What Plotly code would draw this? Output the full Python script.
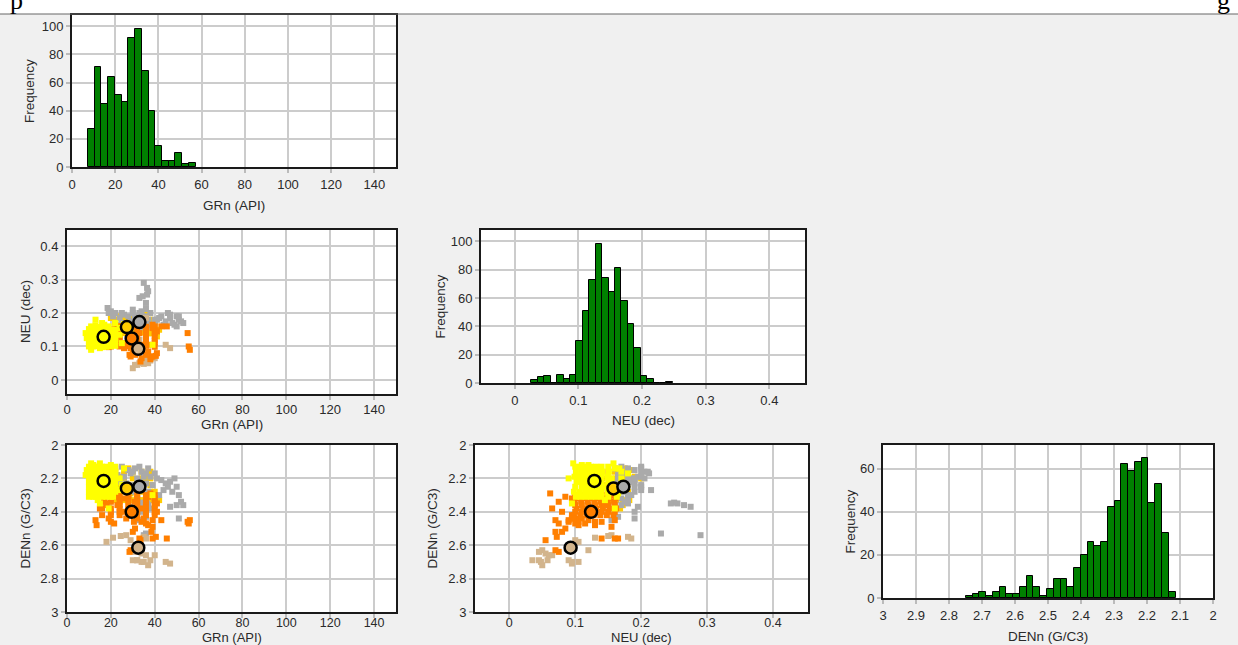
import plotly.graph_objects as go

W, H = 1238, 645

# ---------------- histogram data ----------------
gr_counts = [27, 71, 45, 64, 51, 46, 92, 98, 68, 40, 15, 4, 4, 10, 2, 3]
gr_bin_first = 7.35      # lower edge of first bin (API)
gr_bin_width = 3.12

neu_counts = [2, 4, 5, 0, 6, 3, 6, 30, 51, 73, 98, 74, 64, 81, 58, 42, 25, 5, 3, 0, 0, 1]
neu_bin_first = 0.0262   # lower edge of first bin (dec)
neu_bin_width = 0.0101

den_counts = [1, 2, 3, 1, 3, 5, 2, 2, 5, 10, 5, 1, 4, 9, 9, 5, 14, 20, 26, 24, 26,
              42, 45, 62, 59, 63, 65, 44, 53, 30, 3]
den_bin_first = 2.749    # upper edge of first bin (G/C3), bins run toward lower density
den_bin_width = 0.0205

# ---------------- cluster points (GRn, NEU, DENn) ----------------
yellow_pts = [
    (10, 0.100, 2.13), (14, 0.101, 2.16), (18, 0.099, 2.19), (22, 0.102, 2.22), (12, 0.100, 2.25), (16, 0.098, 2.28), (20, 0.101, 2.31),
    (12.5, 0.108, 2.13), (16, 0.109, 2.16), (20, 0.107, 2.19), (10, 0.108, 2.22), (14, 0.110, 2.25), (18, 0.107, 2.28), (21, 0.108, 2.31),
    (14, 0.116, 2.13), (18, 0.117, 2.16), (22, 0.115, 2.19), (12, 0.116, 2.22), (16, 0.118, 2.25), (20, 0.115, 2.28), (10, 0.116, 2.31),
    (16, 0.124, 2.13), (20, 0.125, 2.16), (10, 0.123, 2.19), (14, 0.124, 2.22), (18, 0.126, 2.25), (22, 0.123, 2.28), (12, 0.124, 2.31),
    (18, 0.132, 2.13), (22, 0.133, 2.16), (12, 0.131, 2.19), (16, 0.132, 2.22), (20, 0.134, 2.25), (10, 0.131, 2.28), (14, 0.132, 2.31),
    (20, 0.140, 2.13), (10, 0.141, 2.16), (14, 0.139, 2.19), (18, 0.140, 2.22), (22, 0.142, 2.25), (12, 0.139, 2.28), (16, 0.140, 2.31),
    (22, 0.150, 2.13), (12, 0.151, 2.16), (16, 0.149, 2.19), (20, 0.150, 2.22), (10, 0.152, 2.25), (14, 0.149, 2.28), (18, 0.150, 2.31),
    (9, 0.125, 2.15), (11, 0.160, 2.14), (24, 0.155, 2.20), (25, 0.110, 2.24), (13, 0.180, 2.17), (17, 0.165, 2.29),
    (15, 0.095, 2.35), (19, 0.160, 2.38), (12, 0.120, 2.12), (39, 0.105, 2.30), (22, 0.170, 2.16), (20, 0.110, 2.12),
    (14, 0.145, 2.33), (16, 0.170, 2.20), (11, 0.090, 2.20), (24, 0.135, 2.27), (8.5, 0.140, 2.18), (15, 0.158, 2.11),
    (11, 0.097, 2.11), (26, 0.167, 2.14), (13, 0.163, 2.31),
]

gold_pts = [
    (22, 0.140, 2.16), (30, 0.141, 2.20), (38, 0.139, 2.24), (26, 0.140, 2.28), (34, 0.142, 2.33),
    (26, 0.150, 2.16), (34, 0.151, 2.20), (22, 0.149, 2.24), (30, 0.150, 2.28), (38, 0.152, 2.33),
    (30, 0.160, 2.16), (38, 0.161, 2.20), (26, 0.159, 2.24), (34, 0.160, 2.28), (22, 0.162, 2.33),
    (34, 0.170, 2.16), (22, 0.171, 2.20), (30, 0.169, 2.24), (38, 0.170, 2.28), (26, 0.172, 2.33),
    (38, 0.180, 2.16), (26, 0.181, 2.20), (34, 0.179, 2.24), (22, 0.180, 2.28), (30, 0.182, 2.33),
    (41, 0.130, 2.32), (42, 0.150, 2.33), (20, 0.185, 2.15), (24, 0.190, 2.19), (36, 0.200, 2.20),
    (28, 0.175, 2.14), (25, 0.165, 2.25), (29, 0.155, 2.29), (40, 0.165, 2.28), (23, 0.145, 2.24),
    (36, 0.168, 2.38), (33, 0.172, 2.36),
]

grey_pts = [
    (22, 0.200, 2.14), (25, 0.170, 2.13), (28, 0.190, 2.15), (31, 0.160, 2.14), (34, 0.205, 2.16), (37, 0.180, 2.14), (40, 0.170, 2.17),
    (23, 0.165, 2.18), (26, 0.195, 2.19), (29, 0.175, 2.17), (32, 0.185, 2.20), (35, 0.165, 2.19), (38, 0.200, 2.19), (41, 0.180, 2.20),
    (24, 0.185, 2.22), (27, 0.160, 2.23), (30, 0.200, 2.24), (33, 0.170, 2.22), (36, 0.190, 2.23), (39, 0.160, 2.24),
    (25, 0.200, 2.27), (28, 0.170, 2.26), (31, 0.190, 2.28), (34, 0.160, 2.27), (37, 0.175, 2.28),
    (43, 0.190, 2.21), (45, 0.175, 2.23), (47, 0.185, 2.22), (49, 0.165, 2.20), (50, 0.190, 2.25), (44, 0.165, 2.27),
    (46, 0.200, 2.25), (48, 0.170, 2.28), (51, 0.180, 2.30), (52, 0.175, 2.34), (50, 0.160, 2.36), (47, 0.195, 2.37),
    (53, 0.170, 2.36), (42, 0.185, 2.30),
    (32, 0.170, 2.32), (35, 0.180, 2.35), (38, 0.160, 2.38), (34, 0.190, 2.40), (36, 0.165, 2.43), (33, 0.155, 2.45),
    (40, 0.180, 2.33), (51, 0.190, 2.44),
    (30, 0.210, 2.16), (36, 0.212, 2.17), (33, 0.200, 2.13), (19, 0.200, 2.17), (21, 0.190, 2.20),
    (35, 0.290, 2.54), (36.5, 0.275, 2.37), (36.5, 0.255, 2.35), (34.5, 0.250, 2.345), (33, 0.245, 2.35),
    (36, 0.230, 2.53), (18.5, 0.215, 2.27), (20, 0.205, 2.20), (37, 0.265, 2.36),
]

orange_pts = [
    (16, 0.100, 2.30), (28, 0.101, 2.32), (40, 0.099, 2.34), (24, 0.100, 2.36), (36, 0.102, 2.38), (20, 0.100, 2.40), (32, 0.098, 2.42),
    (20, 0.110, 2.30), (32, 0.111, 2.32), (17, 0.109, 2.34), (28, 0.110, 2.36), (40, 0.112, 2.38), (24, 0.110, 2.40), (36, 0.108, 2.42),
    (24, 0.120, 2.30), (36, 0.121, 2.32), (20, 0.119, 2.34), (32, 0.120, 2.36), (16, 0.122, 2.38), (28, 0.120, 2.40), (40, 0.118, 2.42),
    (28, 0.130, 2.30), (40, 0.131, 2.32), (24, 0.129, 2.34), (36, 0.130, 2.36), (20, 0.132, 2.38), (32, 0.130, 2.40), (16, 0.128, 2.42),
    (32, 0.140, 2.30), (17, 0.141, 2.32), (28, 0.139, 2.34), (40, 0.140, 2.36), (24, 0.142, 2.38), (36, 0.140, 2.40), (20, 0.138, 2.42),
    (36, 0.150, 2.30), (20, 0.151, 2.32), (32, 0.149, 2.34), (18, 0.150, 2.36), (28, 0.152, 2.38), (40, 0.150, 2.40), (24, 0.148, 2.42),
    (40, 0.160, 2.30), (24, 0.161, 2.32), (36, 0.159, 2.34), (23, 0.160, 2.36), (32, 0.162, 2.38), (26, 0.160, 2.40), (28, 0.158, 2.42),
    (55, 0.140, 2.46), (55.5, 0.100, 2.47), (56, 0.090, 2.45), (13, 0.120, 2.45), (13.5, 0.130, 2.48), (20, 0.105, 2.46),
    (21.5, 0.115, 2.47), (30, 0.080, 2.52), (31, 0.085, 2.50), (33, 0.140, 2.56), (39, 0.165, 2.56), (45.5, 0.160, 2.56),
    (43, 0.160, 2.45), (39, 0.155, 2.49), (29, 0.070, 2.63), (28.5, 0.075, 2.64), (38, 0.062, 2.29), (36, 0.075, 2.47),
    (38.5, 0.070, 2.52), (40.5, 0.072, 2.55), (34, 0.090, 2.46), (32, 0.095, 2.44), (37, 0.105, 2.48), (35, 0.105, 2.44),
    (29, 0.095, 2.42), (27, 0.110, 2.44), (30.5, 0.130, 2.46), (41, 0.145, 2.35), (26, 0.095, 2.32), (22, 0.135, 2.31),
    (15, 0.125, 2.38), (18, 0.145, 2.35), (41, 0.080, 2.40), (34, 0.065, 2.38), (31, 0.075, 2.34), (37, 0.085, 2.31),
    (33.5, 0.055, 2.57), (19, 0.098, 2.44), (39, 0.070, 2.45),
]

tan_pts = [
    (30, 0.035, 2.69), (32, 0.045, 2.69), (35, 0.048, 2.70), (37, 0.050, 2.72), (40, 0.065, 2.66), (47, 0.095, 2.71),
    (45, 0.105, 2.70), (18, 0.105, 2.58), (21, 0.130, 2.555), (24.5, 0.150, 2.545), (27, 0.155, 2.54), (29, 0.100, 2.57),
    (33, 0.050, 2.63), (34, 0.055, 2.65), (31, 0.045, 2.64), (36, 0.185, 2.56), (35, 0.180, 2.55), (33, 0.120, 2.63),
    (32, 0.090, 2.69), (34, 0.095, 2.70), (38, 0.058, 2.69), (36, 0.060, 2.66),
]

centroid_gr = [16.7, 27.3, 33.0, 29.5, 32.5]
centroid_neu = [0.129, 0.158, 0.173, 0.124, 0.093]
centroid_den = [2.215, 2.26, 2.25, 2.40, 2.615]

# ---------------- styles ----------------
C_YELLOW, C_GOLD, C_GREY, C_ORANGE, C_TAN = "#ffff00", "#ffcc00", "#aaaaaa", "#ff7f00", "#d2b48c"
centroid_colors = [C_YELLOW, C_GOLD, C_GREY, C_ORANGE, C_TAN]
BAR_GREEN = "#008000"
FONT = "Liberation Sans, Arial, sans-serif"
TXT = "#2a2a2a"


def dom_x(x0, x1):
    return [x0 / W, x1 / W]


def dom_y(y0, y1):
    return [1 - y1 / H, 1 - y0 / H]


fig = go.Figure()

# --- histograms ---
gr_x = [gr_bin_first + (i + 0.5) * gr_bin_width for i in range(len(gr_counts))]
neu_x = [neu_bin_first + (i + 0.5) * neu_bin_width for i in range(len(neu_counts))]
den_x = [den_bin_first - (i + 0.5) * den_bin_width for i in range(len(den_counts))]

bar_style = dict(color=BAR_GREEN, line=dict(color="black", width=1))
fig.add_trace(go.Bar(x=gr_x, y=gr_counts, width=gr_bin_width, marker=bar_style, xaxis="x", yaxis="y"))
fig.add_trace(go.Bar(x=neu_x, y=neu_counts, width=neu_bin_width, marker=bar_style, xaxis="x4", yaxis="y4"))
fig.add_trace(go.Bar(x=den_x, y=den_counts, width=den_bin_width, marker=bar_style, xaxis="x6", yaxis="y6"))

# --- scatter panels ---
clusters = [(gold_pts, C_GOLD), (grey_pts, C_GREY), (tan_pts, C_TAN), (orange_pts, C_ORANGE), (yellow_pts, C_YELLOW)]
panels = [(0, 1, "x2", "y2"), (0, 2, "x3", "y3"), (1, 2, "x5", "y5")]
centroid_vals = [centroid_gr, centroid_neu, centroid_den]

for ix, iy, xa, ya in panels:
    for pts, col in clusters:
        fig.add_trace(go.Scatter(
            x=[p[ix] for p in pts], y=[p[iy] for p in pts], mode="markers",
            marker=dict(symbol="square", size=6, color=col, line=dict(width=0)),
            xaxis=xa, yaxis=ya, hoverinfo="skip"))
    fig.add_trace(go.Scatter(
        x=centroid_vals[ix], y=centroid_vals[iy], mode="markers",
        marker=dict(symbol="circle", size=12, color=centroid_colors, line=dict(color="black", width=2.5)),
        xaxis=xa, yaxis=ya, hoverinfo="skip"))


def axis(domain, anchor, rng, dtick, standoff=0, fsize=13):
    return dict(
        domain=domain, anchor=anchor, range=rng, dtick=dtick, tick0=0, automargin=False,
        showgrid=True, gridcolor="#cccccc", gridwidth=1.6, zeroline=False,
        showline=True, mirror=True, linecolor="#1a1a1a", linewidth=2,
        ticks="outside", ticklen=4, tickwidth=1.5, tickcolor="#bbbbbb",
        ticklabelstandoff=standoff,
        tickfont=dict(family=FONT, size=fsize, color=TXT),
    )


# panel boxes in pixels: (left, right, top, bottom)
box_A = (72, 396, 15, 167)
box_B = (67, 396, 230, 394)
box_C = (67, 396, 445, 612)
box_D = (481, 805, 230, 383)
box_E = (475, 808, 445, 612)
box_F = (883, 1213, 445, 598)

# axis titles: (box, x title, x-title offset below, x-title size, y title, y-title offset left)
titles = [
    (box_A, "GRn (API)", 38, 13.5, "Frequency", 42),
    (box_B, "GRn (API)", 30, 13.5, "NEU (dec)", 42),
    (box_C, "GRn (API)", 25, 13, "DENn (G/C3)", 42),
    (box_D, "NEU (dec)", 37, 13.5, "Frequency", 41),
    (box_E, "NEU (dec)", 25, 13, "DENn (G/C3)", 43),
    (box_F, "DENn (G/C3)", 38, 13.5, "Frequency", 33),
]

annotations = []
for (l, r, t, b), xt, xo, xs, yt, yo in titles:
    annotations.append(dict(text=xt, x=(l + r) / 2 / W, y=1 - (b + xo) / H, xref="paper", yref="paper",
                            xanchor="center", yanchor="middle", showarrow=False,
                            font=dict(family=FONT, size=xs, color=TXT)))
    annotations.append(dict(text=yt, x=(l - yo) / W, y=1 - (t + b) / 2 / H, xref="paper", yref="paper",
                            xanchor="center", yanchor="middle", textangle=-90, showarrow=False,
                            font=dict(family=FONT, size=13.5, color=TXT)))

annotations += [
    dict(text="p", x=8 / W, y=1 - 17 / H, xref="paper", yref="paper", xanchor="left", yanchor="bottom",
         showarrow=False, font=dict(family="Liberation Serif, serif", size=26, color="black")),
    dict(text="g", x=1232 / W, y=1 - 17 / H, xref="paper", yref="paper", xanchor="right", yanchor="bottom",
         showarrow=False, font=dict(family="Liberation Serif, serif", size=26, color="black")),
]

layout = dict(
    width=W, height=H, margin=dict(l=0, r=0, t=0, b=0, autoexpand=False),
    paper_bgcolor="#f0f0f0", plot_bgcolor="white", showlegend=False, bargap=0,
    xaxis=axis(dom_x(*box_A[:2]), "y", [0, 150], 20),
    yaxis=axis(dom_y(*box_A[2:]), "x", [0, 108], 20),
    xaxis2=axis(dom_x(*box_B[:2]), "y2", [0, 150], 20, -2),
    yaxis2=axis(dom_y(*box_B[2:]), "x2", [-0.042, 0.448], 0.1),
    xaxis3=axis(dom_x(*box_C[:2]), "y3", [0, 150], 20, -6, 12.5),
    yaxis3=axis(dom_y(*box_C[2:]), "x3", [3, 2], 0.2),
    xaxis4=axis(dom_x(*box_D[:2]), "y4", [-0.053, 0.456], 0.1),
    yaxis4=axis(dom_y(*box_D[2:]), "x4", [0, 108], 20),
    xaxis5=axis(dom_x(*box_E[:2]), "y5", [-0.052, 0.453], 0.1, -6, 12.5),
    yaxis5=axis(dom_y(*box_E[2:]), "x5", [3, 2], 0.2),
    xaxis6=axis(dom_x(*box_F[:2]), "y6", [3, 2], 0.1),
    yaxis6=axis(dom_y(*box_F[2:]), "x6", [0, 71], 20),
    shapes=[
        dict(type="rect", xref="paper", yref="paper", x0=0, x1=1, y0=1 - 14 / H, y1=1,
             fillcolor="white", line=dict(width=0), layer="below"),
        dict(type="line", xref="paper", yref="paper", x0=0, x1=1, y0=1 - 14 / H, y1=1 - 14 / H,
             line=dict(color="#666666", width=1)),
    ],
    annotations=annotations,
)
fig.update_layout(**layout)

fig.write_html("out.html")
